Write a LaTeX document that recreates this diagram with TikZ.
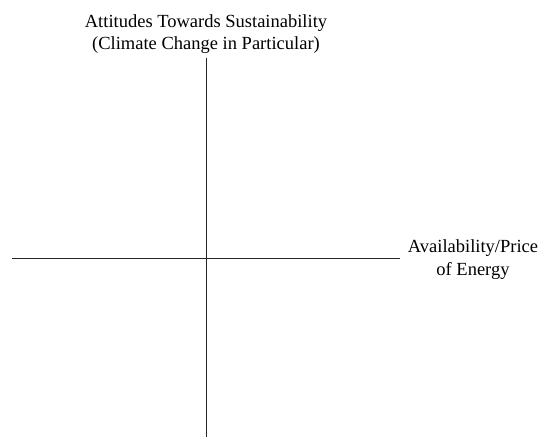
\documentclass[tikz,border=0pt]{standalone}
\usepackage{fontspec}
\setmainfont{Liberation Serif}
\begin{document}
\begin{tikzpicture}[x=1pt,y=1pt,
  axis/.style={line width=0.9pt, draw=black!85},
  lbl/.style={font=\fontsize{18.5}{22}\selectfont, align=center, inner sep=0pt, anchor=base}]
\useasboundingbox (0,0) rectangle (541,439);
\coordinate (vt) at (206,381);
\coordinate (vb) at (206,2);
\coordinate (hl) at (12,181);
\coordinate (hr) at (400,181);
\draw[axis] (vt) -- (vb);
\draw[axis] (hl) -- (hr);
\node[lbl] (top1) at (206,411) {Attitudes Towards Sustainability};
\node[lbl] (top2) at (206,389) {(Climate Change in Particular)};
\node[lbl] (r1) at (473,186) {Availability/Price};
\node[lbl] (r2) at (473,163) {of Energy};
\end{tikzpicture}
\end{document}
